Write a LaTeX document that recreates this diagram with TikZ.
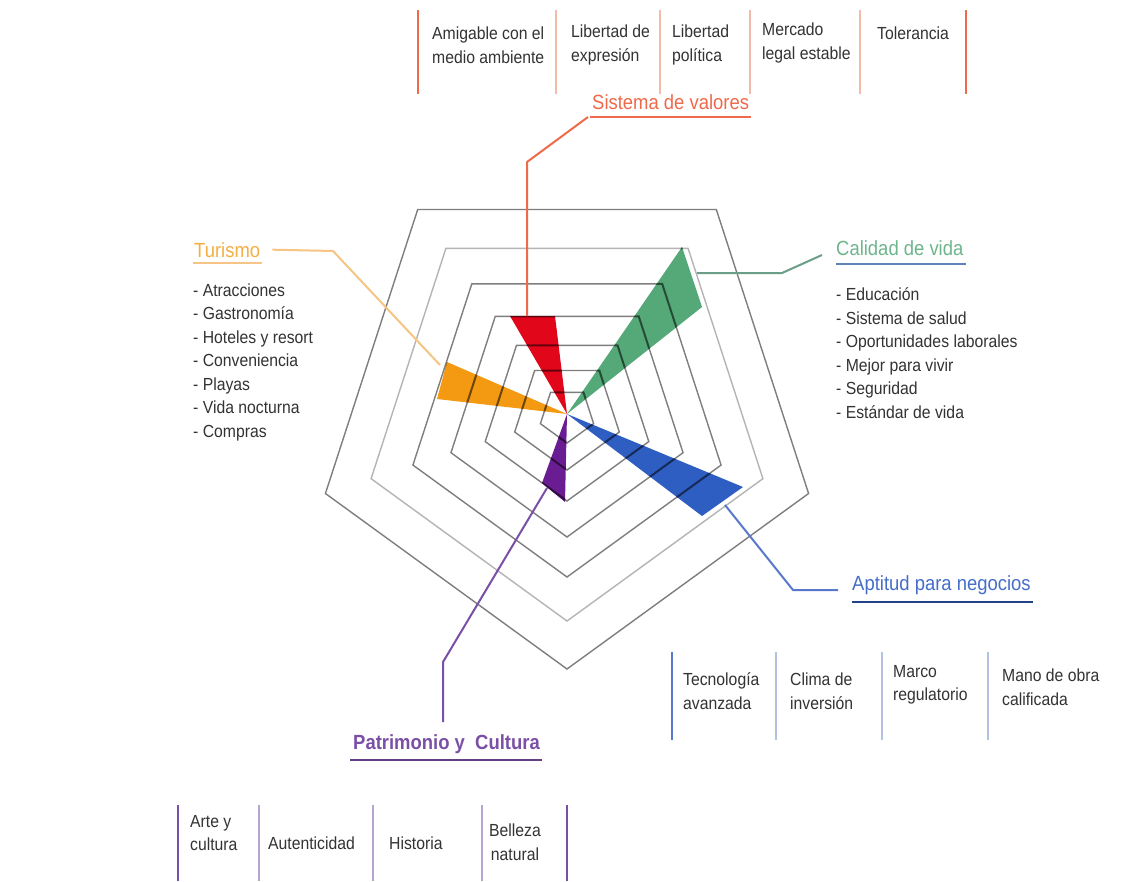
\documentclass[tikz,border=0pt]{standalone}
\usepackage{fontspec}
\setmainfont{Liberation Sans}[FakeStretch=0.9]
\usetikzlibrary{calc}

\definecolor{txt}{HTML}{333333}
\definecolor{gridc}{HTML}{7E7E7E}
\definecolor{gridl}{HTML}{B4B4B4}
\definecolor{wred}{HTML}{E2061B}
\definecolor{wgreen}{HTML}{55A877}
\definecolor{worange}{HTML}{F39A12}
\definecolor{wblue}{HTML}{2F5EC2}
\definecolor{wpurple}{HTML}{6A1D92}
\definecolor{cred}{HTML}{EE6A4B}
\definecolor{credl}{HTML}{F3B9A9}
\definecolor{corange}{HTML}{F6C484}
\definecolor{cgreen}{HTML}{6A9E88}
\definecolor{cblue}{HTML}{5878CC}
\definecolor{cbluel}{HTML}{B3C0E2}
\definecolor{cpurple}{HTML}{7A4FA6}
\definecolor{cpurplel}{HTML}{B9A3D0}

\tikzset{
  gridline/.style={draw=gridc, line width=1.4pt, line join=miter},
  wedge/.style={draw=none, fill=#1},
  conn/.style={draw=#1, line width=2pt, line join=round},
  sep/.style={draw=#1, line width=2pt},
  item/.style={font=\fontsize{17.5}{23.5}\selectfont, text=txt, inner sep=0pt, align=left, anchor=west},
  head/.style={font=\fontsize{20.5}{24}\selectfont, text=#1, inner sep=0pt, anchor=base west},
}

% the five-sided ring of radius #1 round the chart centre
\newcommand{\ringpath}[1]{($(567,415)+(90:#1)$) -- ($(567,415)+(162:#1)$) -- ($(567,415)+(234:#1)$)
    -- ($(567,415)+(306:#1)$) -- ($(567,415)+(18:#1)$) -- cycle}

\begin{document}
\begin{tikzpicture}[x=1pt, y=-1pt]
\path[use as bounding box, fill=white] (0,0) rectangle (1123,881);

% ---- nested pentagons
\foreach \r/\c in {254/gridc, 206/gridl, 162/gridc, 122/gridc, 86/gridc, 55/gridc, 28/gridc}
  \draw[gridline, draw=\c] \ringpath{\r};

% ---- coloured wedges
\coordinate (C) at (567,414);
\fill[wedge=wred]    (C) -- (510,316) -- (555,316) -- cycle;
\fill[wedge=wgreen]  (C) -- (682,247) -- (702,307) -- cycle;
\fill[wedge=worange] (C) -- (447,362) -- (437,399) -- cycle;
\fill[wedge=wblue]   (C) -- (743,487) -- (702,516) -- cycle;
\fill[wedge=wpurple] (C) -- (542,483) -- (565,502) -- cycle;

% rings seen through the wedges as darker lines
\begin{scope}
  \clip (C) -- (510,316) -- (555,316) -- cycle
        (C) -- (682,247) -- (702,307) -- cycle
        (C) -- (447,362) -- (437,399) -- cycle
        (C) -- (743,487) -- (702,516) -- cycle
        (C) -- (542,483) -- (565,502) -- cycle;
  \foreach \r in {254, 206, 162, 122, 86, 55, 28}
    \draw[draw=black, draw opacity=0.55, line width=2pt] \ringpath{\r};
\end{scope}

% anchor points on the wedges for the leader lines
\coordinate (rw) at (527,316);
\coordinate (ow) at (440,365);
\coordinate (gw) at (697,273);
\coordinate (bw) at (725,505);
\coordinate (pw) at (547,488);

% ---- headings
\node[head=cred] (sv) at (592,109) {Sistema de valores};
\node[head=worange!80] (tur) at (194,257) {Turismo};
\node[head=wgreen!85] (cal) at (836,255) {Calidad de vida};
\node[head=wblue!90] (apt) at (852,590) {Aptitud para negocios};
\node[head=cpurple, font=\fontsize{20.5}{24}\selectfont\bfseries] (pat) at (353,749) {Patrimonio y\ \ Cultura};

% ---- leader lines and underlines
\draw[conn=cred] (rw) -- (527,162) -- ([xshift=-4pt,yshift=-8pt]sv.base west);
\draw[conn=cred] ([xshift=-2pt,yshift=-8pt]sv.base west) -- ([xshift=2pt,yshift=-8pt]sv.base east);

\draw[conn=corange] ([xshift=12pt]tur.east) -- (333,251) -- (ow);
\draw[conn=corange] ([xshift=-1pt,yshift=-6pt]tur.base west) -- ([xshift=2pt,yshift=-6pt]tur.base east);

\draw[conn=cgreen] (gw) -- (782,273) -- ([xshift=-14pt]cal.base west);
\draw[conn=cblue!70!cgreen] ([yshift=-9pt]cal.base west) -- ([xshift=2pt,yshift=-9pt]cal.base east);

\draw[conn=cblue] (bw) -- (793,590) -- ([xshift=-14pt]apt.base west);
\draw[conn=wblue!70!black] ([yshift=-12pt]apt.base west) -- ([xshift=2pt,yshift=-12pt]apt.base east);

\coordinate (pend) at (443,722);
\draw[conn=cpurple] (pw) -- (443,662) -- (pend);
\draw[conn=cpurple!80!black] ([xshift=-3pt,yshift=-11pt]pat.base west) -- ([xshift=2pt,yshift=-11pt]pat.base east);

% ---- bullet lists
\node[item] (tlist) at (193,362) {- Atracciones\\- Gastronomía\\- Hoteles y resort\\- Conveniencia\\- Playas\\- Vida nocturna\\- Compras};
\node[item] (clist) at (836,353) {- Educación\\- Sistema de salud\\- Oportunidades laborales\\- Mejor para vivir\\- Seguridad\\- Estándar de vida};

% ---- top row: values
\foreach \x/\c in {418/cred, 556/credl, 660/credl, 750/credl, 860/credl, 966/cred}
  \draw[sep=\c] (\x,10) -- (\x,94);
\node[item] (v1) at (432,45) {Amigable con el\\medio ambiente};
\node[item] (v2) at (571,45) {Libertad de\\expresión};
\node[item] (v3) at (672,45) {Libertad\\política};
\node[item] (v4) at (762,43) {Mercado\\legal estable};
\node[item] (v5) at (877,33) {Tolerancia};

% ---- business row
\foreach \x/\c in {672/cblue, 776/cbluel, 882/cbluel, 988/cbluel}
  \draw[sep=\c] (\x,652) -- (\x,740);
\node[item] (b1) at (683,691) {Tecnología\\avanzada};
\node[item] (b2) at (790,691) {Clima de\\inversión};
\node[item] (b3) at (893,685) {Marco\\regulatorio};
\node[item] (b4) at (1002,687) {Mano de obra\\calificada};

% ---- heritage row
\foreach \x/\c in {178/cpurple, 259/cpurplel, 373/cpurplel, 482/cpurplel, 567/cpurple}
  \draw[sep=\c] (\x,805) -- (\x,881);
\node[item] (h1) at (190,833) {Arte y\\cultura};
\node[item] (h2) at (268,843) {Autenticidad};
\node[item] (h3) at (389,843) {Historia};
\node[item, align=center] (h4) at (489,842) {Belleza\\natural};
\end{tikzpicture}
\end{document}
